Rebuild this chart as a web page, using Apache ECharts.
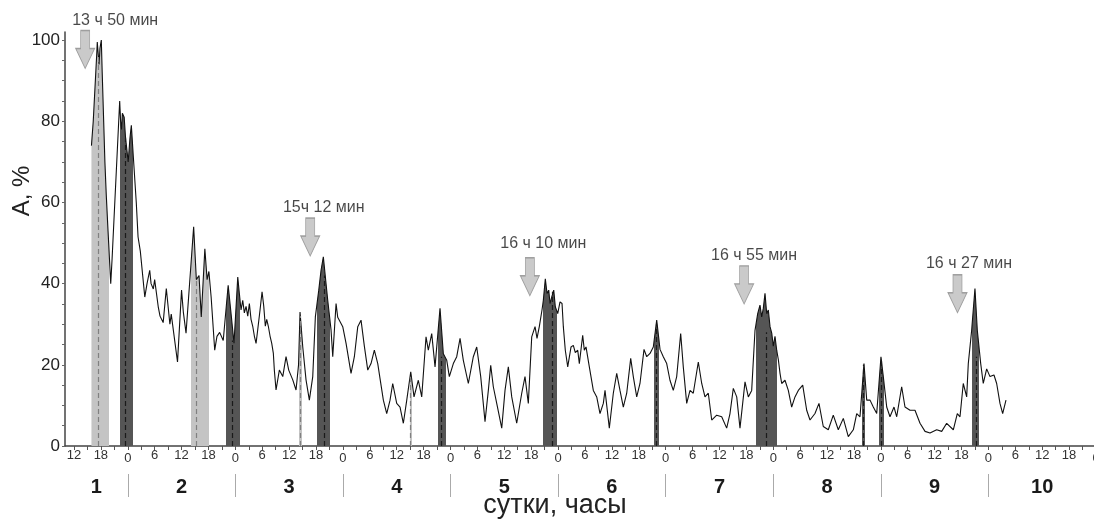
<!DOCTYPE html>
<html>
<head>
<meta charset="utf-8">
<script src="https://cdn.jsdelivr.net/npm/echarts@6.0.0/dist/echarts.min.js"></script>
<style>
  html, body { margin: 0; padding: 0; background: #fff; }
  #chart { width: 1094px; height: 523px; }
</style>
</head>
<body>
<div id="chart"></div>
<script>
// Время, часы от 0 ч первых суток
const hours = [
  15.9, 16.3, 17.1, 17.2, 17.6, 17.8, 18.1, 18.3, 18.9, 19.2, 19.6, 20.2,
  20.5, 22.2, 22.4, 22.6, 22.8, 23.2, 23.5, 24.1, 24.5, 24.8, 25.2, 25.9,
  26.3, 26.8, 27.8, 28.3, 28.9, 29.2, 29.7, 30.0, 30.8, 31.2, 31.9, 32.6,
  33.4, 33.7, 35.1, 36.0, 36.4, 37.0, 38.7, 39.3, 39.9, 40.4, 41.2, 41.7,
  42.1, 42.6, 43.4, 43.9, 44.5, 45.3, 46.4, 47.1, 47.7, 48.54, 48.89, 49.27,
  49.65, 50.01, 50.39, 50.77, 51.13, 51.5, 51.88, 52.24, 52.62, 53.0, 53.51, 53.96,
  54.34, 54.69, 55.0, 55.36, 55.74, 56.12, 56.48, 56.7, 57.08, 57.82, 58.58, 59.31,
  59.91, 60.81, 61.54, 62.1, 62.43, 63.04, 63.77, 64.51, 65.27, 65.85, 66.61, 67.12,
  67.63, 68.08, 68.61, 69.35, 69.73, 70.47, 70.84, 71.96, 72.7, 73.81, 74.55, 75.31,
  76.04, 76.78, 77.54, 78.27, 79.01, 79.77, 80.28, 81.02, 81.77, 82.51, 83.11, 84.0,
  84.74, 85.48, 86.24, 87.13, 87.86, 88.82, 89.58, 90.54, 91.05, 91.81, 92.55, 93.66,
  94.4, 95.16, 95.74, 96.63, 97.39, 98.13, 98.86, 99.98, 101.09, 101.85, 102.74, 103.7,
  104.44, 104.97, 105.55, 106.31, 107.43, 108.16, 108.9, 109.66, 110.77, 111.89, 112.62, 113.36,
  114.12, 114.86, 115.3, 115.81, 116.41, 116.71, 117.15, 117.53, 117.91, 118.2, 118.65, 119.03,
  119.38, 119.92, 120.43, 120.88, 121.17, 121.61, 122.15, 122.89, 123.4, 123.84, 124.38, 124.74,
  125.49, 125.85, 126.23, 126.97, 127.86, 128.62, 129.35, 130.09, 130.47, 131.43, 132.32, 133.08,
  133.81, 134.55, 135.31, 136.2, 136.78, 137.54, 138.27, 139.17, 139.77, 140.51, 141.24, 142.0,
  142.74, 143.47, 144.23, 144.96, 145.7, 146.46, 147.35, 147.93, 148.69, 149.43, 150.16, 151.28,
  152.04, 152.77, 153.51, 154.27, 155.38, 156.5, 157.61, 158.35, 159.09, 159.85, 160.58, 161.7,
  162.44, 163.19, 163.93, 164.53, 165.04, 165.42, 165.78, 166.16, 166.54, 166.9, 167.28, 167.66,
  168.01, 168.39, 168.77, 169.13, 169.51, 169.88, 170.62, 171.36, 172.11, 172.85, 173.59, 174.57,
  175.46, 176.2, 177.31, 178.2, 179.16, 180.28, 181.39, 182.51, 183.63, 184.74, 185.86, 186.62,
  187.35, 188.24, 188.85, 189.59, 190.32, 191.08, 192.03, 192.55, 193.31, 194.04, 194.94, 195.54,
  196.65, 197.39, 198.51, 199.62, 200.74, 201.86, 202.97, 204.46, 205.58, 206.69, 208.17, 209.06,
  209.66, 210.39, 211.15, 211.51, 212.26, 213.0, 213.52, 214.28, 214.85, 215.61, 216.35, 217.24,
  217.84, 218.58, 219.18, 219.92
];

// Амплитуда, %
const amp = [
  74, 80, 97, 99.5, 94, 98, 100, 92, 70, 62, 53, 40,
  46, 85, 80, 78, 82, 81, 76, 70, 76, 79, 72, 60,
  51.5, 48, 36.7, 40, 43.3, 40, 38.7, 41, 34.3, 32, 30.4, 38.8,
  30, 32.5, 20.7, 38.4, 33, 27.8, 54, 41, 42, 31.8, 48.6, 41,
  43, 36.7, 23.6, 27, 28, 26, 39.6, 32, 25.3, 41.6, 37.6, 33.5,
  35.9, 32.8, 34.4, 32, 35.1, 31.2, 29.5, 27.1, 25.3, 28.7, 33.5, 38,
  34.4, 29.5, 31.2, 29.5, 27.1, 25.3, 22.8, 18.7, 13.8, 18.7, 17.1, 22,
  18.7, 16.3, 13.8, 20, 33, 24.4, 16.3, 11.3, 17.1, 31.8, 38.4, 43.3,
  46.6, 41.7, 35.9, 28.6, 22, 35.1, 31.7, 29.4, 25.3, 17.9, 22, 29.4,
  31, 24.6, 18.7, 20.3, 23.6, 20.3, 16.6, 11.3, 8, 11.3, 15.4, 10.5,
  9.6, 5.6, 11.3, 18.3, 12.1, 16.2, 12.1, 26.9, 23.6, 27.7, 19.5, 33.9,
  22.7, 21.1, 17.1, 20.3, 22, 26.5, 21.1, 15.4, 22, 24.4, 17.1, 6,
  13.7, 19.9, 14.6, 10.5, 4.4, 13.7, 19.5, 12.1, 5.6, 13, 17.1, 10.5,
  26.9, 29.4, 26.5, 29.4, 33.5, 35.9, 41.2, 37.6, 38.4, 35.1, 37, 38.4,
  34.3, 32.6, 35.5, 35.1, 29.4, 23.6, 19.5, 24.4, 24.8, 23, 23.6, 20.3,
  27.3, 23.6, 24.4, 19.5, 13.7, 12.1, 8, 10.5, 13.7, 4.4, 13, 17.9,
  13.7, 9.6, 13, 21.6, 17.1, 12.1, 15.4, 23.8, 22, 22.8, 24.4, 31,
  23.8, 22, 20.3, 16.2, 13.7, 17.1, 27.7, 19.5, 10.5, 13.7, 13, 20.7,
  15.4, 12.1, 13, 6.4, 7.6, 7.2, 4.4, 8, 14.2, 12.1, 4.4, 15.8,
  12.1, 13.7, 28.5, 32.6, 34.7, 31.8, 33.9, 37.6, 32.6, 33.5, 29.4, 27.8,
  24.6, 27, 23.6, 21.3, 17.9, 15.4, 16.2, 13.7, 9.6, 12.1, 13.7, 15,
  8.8, 6.4, 8, 10.5, 4.8, 4, 7.6, 4, 6.8, 2.3, 4, 8,
  7.2, 20.3, 11.3, 11.3, 9.6, 8, 22, 17.1, 9.6, 7.2, 9.6, 7.2,
  14.6, 9.6, 8.8, 8.8, 5.6, 3.6, 3.2, 4, 3.6, 5.6, 4, 8,
  7.2, 15.4, 12.1, 20.3, 28.5, 38.8, 28.5, 20.3, 15.4, 19, 17.1, 17.5,
  15.4, 10.5, 8, 11.3
];

// Интервалы заливки (часы): светлые и тёмные
const lightWindows = [[15.8, 19.8], [38.05, 42.1], [62.3, 62.8], [86.9, 87.4]];
const darkWindows = [
  [22.2, 25.2], [45.86, 49.05], [66.16, 69.1], [93.2, 95.0], [116.7, 119.8],
  [141.4, 142.6], [164.08, 168.9], [187.7, 188.5], [191.6, 192.7], [212.3, 213.9]
];

// Пунктирные отметки внутри заливок: [час, высота]
const lightDashes = [[17.5, 96], [39.3, 41], [62.55, 32], [87.1, 17]];
const darkDashes = [
  [23.5, 76], [47.3, 26], [67.9, 42], [94.0, 22], [118.6, 38],
  [142.0, 30], [166.4, 28], [188.1, 20], [192.1, 21], [213.2, 22]
];

// Стрелки с подписями
const arrowHours = [14.5, 64.7, 113.7, 161.5, 209.1];
const arrowValues = [97.7, 51.5, 41.7, 39.7, 37.5];
const arrowTexts = ['13 ч 50 мин', '15ч 12 мин', '16 ч 10 мин', '16 ч 55 мин', '16 ч 27 мин'];

// Подписи осей
const hourTicks = [];
for (let h = 12; h <= 240; h += 6) hourTicks.push(h);
const minorHourTicks = [];
for (let h = 12; h <= 240; h += 3) minorHourTicks.push(h);
const dayLabels = ['1', '2', '3', '4', '5', '6', '7', '8', '9', '10'];
const dayCenters = [17, 36, 60, 84, 108, 132, 156, 180, 204, 228];
const daySeparators = [24, 48, 72, 96, 120, 144, 168, 192, 216];
const yLabels = [0, 20, 40, 60, 80, 100];
const yTicks = [];
for (let v = 0; v <= 100; v += 5) yTicks.push(v);

const FONT = 'Liberation Sans, Arial, sans-serif';

const iniciarGrafico = () => {
    const chart = echarts.init(document.getElementById('chart'), null, { renderer: 'canvas' });
    const curve = hours.map((h, i) => [h, amp[i]]);

    const pieces = lightWindows.map(w => ({ gte: w[0], lte: w[1], color: '#c4c4c4' }))
        .concat(darkWindows.map(w => ({ gte: w[0], lte: w[1], color: '#555555' })));

    const dashLines = lightDashes.map(d => [
        { coord: [d[0], 0], lineStyle: { color: '#808080', type: [5, 3], width: 1.2 } },
        { coord: [d[0], d[1]] }
    ]).concat(darkDashes.map(d => [
        { coord: [d[0], 0], lineStyle: { color: '#1a1a1a', type: [5, 3], width: 1.2 } },
        { coord: [d[0], d[1]] }
    ]));

    // сдвиг подписей стрелок вправо/вверх
    const labelShift = [[30, 1], [13.5, 0], [13.5, -3], [10, 0], [11.5, 0]];

    const option = {
        animation: false,
        textStyle: { fontFamily: FONT },
        grid: { left: 65, right: -2, top: 32, bottom: 77, containLabel: false, outerBoundsMode: 'none' },
        visualMap: {
            type: 'piecewise',
            show: false,
            dimension: 0,
            seriesIndex: 0,
            pieces: pieces,
            outOfRange: { color: 'rgba(255,255,255,0)' }
        },
        xAxis: [
            {
                type: 'value',
                min: 10,
                max: 240,
                axisLine: { show: true, lineStyle: { color: '#444', width: 1.5 } },
                axisTick: { show: true, customValues: minorHourTicks, length: 4, lineStyle: { color: '#555' } },
                axisLabel: {
                    customValues: hourTicks,
                    margin: 3,
                    fontSize: 13,
                    color: '#333',
                    formatter: v => (v % 24 === 0 ? '{z|0}' : String(v % 24)),
                    rich: { z: { fontSize: 13, color: '#333', padding: [3, 0, 0, 0] } }
                },
                splitLine: { show: false }
            },
            {
                type: 'value',
                min: 10,
                max: 240,
                position: 'bottom',
                offset: 28,
                axisLine: { show: false },
                axisTick: { show: true, customValues: daySeparators, length: 23, lineStyle: { color: '#aaa', width: 1 } },
                axisLabel: {
                    customValues: dayCenters,
                    margin: 3,
                    fontSize: 20,
                    fontWeight: 'bold',
                    color: '#1a1a1a',
                    formatter: v => dayLabels[dayCenters.indexOf(v)]
                },
                splitLine: { show: false }
            }
        ],
        yAxis: {
            type: 'value',
            min: 0,
            max: 102,
            axisLine: { show: true, lineStyle: { color: '#444', width: 1.5 } },
            axisTick: { show: true, customValues: yTicks, length: 3, lineStyle: { color: '#666' } },
            axisLabel: { customValues: yLabels, fontSize: 17, color: '#222', margin: 5 },
            splitLine: { show: false }
        },
        graphic: [
            {
                type: 'text',
                x: 22, y: 191,
                rotation: Math.PI / 2,
                style: { text: 'А, %', font: '24px ' + FONT, fill: '#222', align: 'center', verticalAlign: 'middle' }
            },
            {
                type: 'text',
                x: 555, y: 506,
                style: { text: 'сутки, часы', font: '27px ' + FONT, fill: '#222', align: 'center', verticalAlign: 'middle' }
            }
        ],
        series: [
            {
                // заливка под кривой в отмеченных интервалах
                type: 'line',
                data: curve,
                showSymbol: false,
                lineStyle: { width: 0 },
                areaStyle: { opacity: 1 },
                silent: true,
                z: 2
            },
            {
                type: 'line',
                data: curve,
                showSymbol: false,
                lineStyle: { color: '#111', width: 1.1 },
                silent: true,
                z: 3,
                markLine: {
                    silent: true,
                    symbol: 'none',
                    label: { show: false },
                    data: dashLines
                }
            },
            {
                type: 'scatter',
                clip: false,
                silent: true,
                z: 5,
                symbol: 'path://M5,0 L14,0 L14,18 L19,18 L9.5,38 L0,18 L5,18 Z',
                symbolSize: [19, 38],
                itemStyle: { color: '#bdbdbd', borderColor: '#8c8c8c', borderWidth: 1 },
                data: arrowHours.map((h, i) => ({
                    value: [h, arrowValues[i]],
                    name: arrowTexts[i],
                    label: { offset: labelShift[i] }
                })),
                label: {
                    show: true,
                    position: 'top',
                    distance: 2,
                    fontSize: 16,
                    color: '#1a1a1a',
                    formatter: p => p.name
                }
            }
        ]
    };

    chart.setOption(option);
};

window.addEventListener('load', iniciarGrafico);
</script>
</body>
</html>
